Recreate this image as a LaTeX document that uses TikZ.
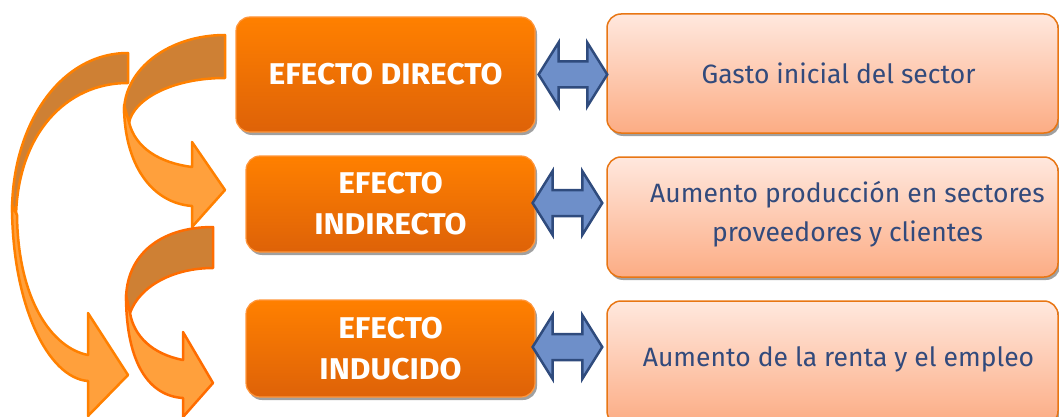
\documentclass[tikz,border=0pt]{standalone}
\usepackage{fontspec}
\setmainfont{Fira Sans}
\usetikzlibrary{calc,shadows}
\definecolor{lt}{RGB}{255,128,0}
\definecolor{lb}{RGB}{222,98,8}
\definecolor{lborder}{RGB}{255,150,60}
\definecolor{rt}{RGB}{255,232,222}
\definecolor{rb}{RGB}{252,172,132}
\definecolor{rborder}{RGB}{232,118,20}
\definecolor{rtext}{RGB}{50,74,124}
\definecolor{dblfill}{RGB}{110,143,201}
\definecolor{dbledge}{RGB}{47,75,125}
\definecolor{darkband}{RGB}{206,128,52}
\definecolor{lightband}{RGB}{255,160,60}
\definecolor{arrA}{RGB}{255,128,0}
\definecolor{arrC}{RGB}{255,108,0}
\definecolor{shadowc}{RGB}{160,160,160}
\newfontfamily\boxfont[FakeStretch=1.06]{Fira Sans}
\tikzset{
  lbox/.style={rectangle, rounded corners=14pt, draw=lborder, line width=1.2pt,
    top color=lt, bottom color=lb, text=white, align=center, inner sep=0pt,
    font=\boxfont\bfseries\fontsize{30}{41}\selectfont,
    drop shadow={shadow xshift=2pt, shadow yshift=-3pt, fill=shadowc, opacity=1}},
  rbox/.style={rectangle, rounded corners=14pt, draw=rborder, line width=1.5pt,
    top color=rt, bottom color=rb, inner sep=0pt,
    drop shadow={shadow xshift=2pt, shadow yshift=-3pt, fill=shadowc, opacity=1}},
  rlabel/.style={text=rtext, align=center, inner sep=0pt,
    font=\fontsize{26.5}{39}\selectfont},
  dbl/.style={draw=dbledge, fill=dblfill, line width=2.5pt, line join=miter},
  darkpart/.style={fill=darkband, line width=2.5pt, line join=round},
  lightpart/.style={fill=lightband, line width=2.5pt, line join=round},
}
\newcommand\dblarr[2]{%
  \draw[dbl] (#1) -- ++(20,-32) -- ++(0,19) -- ($(#2)+(-20,-13)$) -- ++(0,-19) -- (#2)
    -- ++(-20,32) -- ++(0,-19) -- ($(#1)+(20,13)$) -- ++(0,19) -- cycle;}
\begin{document}
\begin{tikzpicture}[x=1pt,y=-1pt]
\useasboundingbox (0,0) rectangle (1059,417);
\clip (0,0) rectangle (1059,417);

% curved arrows
\draw[darkpart, draw=arrA] (128,53) .. controls (60,53) and (12,125) .. (12,212) -- (16,216) .. controls (18,135) and (65,83) .. (128,83) -- cycle;
\draw[lightpart, draw=arrA] (12,205) .. controls (12,305) and (48,378) .. (88,381) -- (88,416) -- (128,375) -- (88,313) -- (88,355) .. controls (52,348) and (18,300) .. (17,215) -- cycle;

\draw[darkpart, draw=arrA] (225,35) .. controls (169,35) and (124,69) .. (124,112) -- (129,123) .. controls (133,100) and (171,78) .. (225,78) -- cycle;
\draw[lightpart, draw=arrA] (124,105) .. controls (124,165) and (152,203) .. (192,206) -- (192,227) -- (225,190) -- (192,142) -- (192,167) .. controls (160,163) and (135,148) .. (129,122) -- cycle;

\draw[darkpart, draw=arrC] (213,227) .. controls (160,227) and (126,255) .. (126,300) -- (130,313) .. controls (140,285) and (175,268) .. (213,268) -- cycle;
\draw[lightpart, draw=arrC] (126,295) .. controls (126,365) and (150,396) .. (183,398) -- (183,417) -- (213,383) -- (183,332) -- (183,360) .. controls (152,354) and (134,336) .. (130,313) -- cycle;

% left boxes
\node[lbox, minimum width=299pt, minimum height=115pt] (b1) at (385.5,74.5) {EFECTO DIRECTO};
\node[lbox, minimum width=289pt, minimum height=96pt] (b2) at (390.5,204) {EFECTO\\INDIRECTO};
\node[lbox, minimum width=289pt, minimum height=97pt] (b3) at (390.5,348.5) {EFECTO\\INDUCIDO};

% right boxes
\node[rbox, minimum width=451pt, minimum height=119pt] (r1) at (832.5,73.5) {};
\node[rbox, minimum width=451pt, minimum height=120pt] (r2) at (832.5,217) {};
\node[rbox, minimum width=451pt, minimum height=124pt] (r3) at (832.5,363) {};
\node[rlabel] (t1) at ($(r1.center)+(6,0)$) {Gasto inicial del sector};
\node[rlabel] (t2) at ($(r2.center)+(15,-3)$) {Aumento producción en sectores\\proveedores y clientes};
\node[rlabel] (t3) at ($(r3.center)+(6,-4)$) {Aumento de la renta y el empleo};

% double arrows
\coordinate (a1l) at ($(b1.east)+(3,0)$);
\coordinate (a1r) at ($(r1.west |- b1.east)+(1,0)$);
\coordinate (a2l) at ($(b2.east)+(-3,-1)$);
\coordinate (a2r) at ($(r2.west |- b2.east)+(-4,-1)$);
\coordinate (a3l) at ($(b3.east)+(-3,-1.5)$);
\coordinate (a3r) at ($(r3.west |- b3.east)+(-4,-1.5)$);
\dblarr{a1l}{a1r}
\dblarr{a2l}{a2r}
\dblarr{a3l}{a3r}
\end{tikzpicture}
\end{document}
